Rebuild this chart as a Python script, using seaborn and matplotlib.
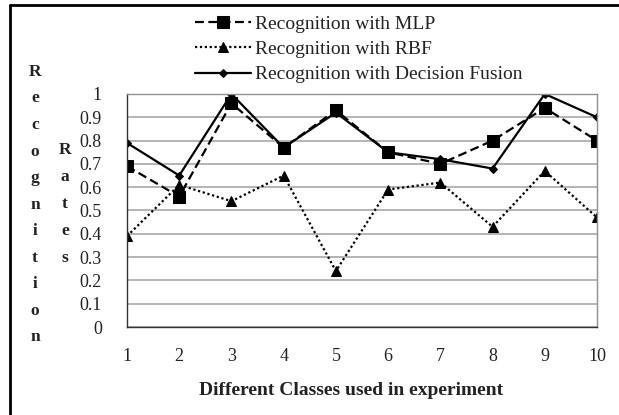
import matplotlib
matplotlib.use("Agg")
import matplotlib.pyplot as plt
import seaborn as sns
from matplotlib.lines import Line2D

classes = [1, 2, 3, 4, 5, 6, 7, 8, 9, 10]
mlp = [0.69, 0.56, 0.96, 0.77, 0.93, 0.75, 0.70, 0.80, 0.94, 0.80]
rbf = [0.39, 0.61, 0.54, 0.65, 0.24, 0.59, 0.62, 0.43, 0.67, 0.47]
fusion = [0.79, 0.65, 1.00, 0.77, 0.92, 0.75, 0.72, 0.68, 1.00, 0.90]
yticks = [0, 0.1, 0.2, 0.3, 0.4, 0.5, 0.6, 0.7, 0.8, 0.9, 1]
ytick_labels = ["0", "0.1", "0.2", "0.3", "0.4", "0.5", "0.6", "0.7", "0.8", "0.9", "1"]
names = ["Recognition with MLP", "Recognition with RBF", "Recognition with Decision Fusion"]

sns.set_theme(style="white")
plt.rcParams['font.family'] = ['Liberation Serif', 'DejaVu Serif']

W, H = 619, 415
fig = plt.figure(figsize=(W / 100, H / 100), dpi=100)
ax = fig.add_axes([127 / W, 1 - 327 / H, (597 - 127) / W, (327 - 94) / H])

sns.lineplot(x=classes, y=mlp, ax=ax, color="black", linestyle=(0, (4, 2)), lw=1.6,
             marker="s", markersize=8, markeredgecolor="black", label=names[0])
sns.lineplot(x=classes, y=rbf, ax=ax, color="black", linestyle=(0, (1, 1.2)), lw=1.6,
             marker="^", markersize=7, markeredgecolor="black", label=names[1])
sns.lineplot(x=classes, y=fusion, ax=ax, color="black", linestyle="-", lw=1.6,
             marker="D", markersize=4.5, markeredgecolor="black", label=names[2])

ax.set_xlim(1, 10)
ax.set_ylim(0, 1)
ax.set_xticks(classes)
ax.set_xticklabels([str(c) for c in classes])
ax.set_yticks(yticks)
ax.set_yticklabels(ytick_labels)
ax.yaxis.grid(True, color="#a8a8a8", lw=1.2)
ax.set_axisbelow(True)
for s in ["top", "right"]:
    ax.spines[s].set_color("#909090")
    ax.spines[s].set_linewidth(1)
for s in ["left", "bottom"]:
    ax.spines[s].set_color("#333333")
    ax.spines[s].set_linewidth(1)
ax.tick_params(axis="both", which="both", width=1, color="#333333",
               labelsize=13, labelcolor="#222222")
ax.tick_params(axis="x", direction="out", length=5, pad=10)
ax.tick_params(axis="y", direction="inout", length=8, pad=14)

ax.set_xlabel("Different Classes used in experiment", fontsize=14, fontweight="bold",
              color="#222222")
ax.xaxis.label.set_va("center")
ax.xaxis.set_label_coords((351 - 127) / 470, (327 - 390) / 233)
ax.set_ylabel("")

leg = ax.legend(loc="upper left", bbox_to_anchor=(195 / W, 1 - 15 / H),
                bbox_transform=fig.transFigure, frameon=False,
                fontsize=14, handlelength=2.9, handletextpad=0.2, labelspacing=0.4,
                borderpad=0, borderaxespad=0)
for t in leg.get_texts():
    t.set_color("#222222")

# stacked y-axis title letters
for i, ch in enumerate("Recognition"):
    fig.text(35 / W, 1 - (72 + i * 26.5) / H, ch, fontsize=12.5, fontweight="bold",
             ha="center", va="center", color="#222222")
for i, ch in enumerate("Rates"):
    fig.text(65 / W, 1 - (150 + i * 27) / H, ch, fontsize=12.5, fontweight="bold",
             ha="center", va="center", color="#222222")

# outer border (top and left)
fig.add_artist(Line2D([10 / W, 10 / W], [0, 1 - 5 / H], color="black", lw=2,
                      transform=fig.transFigure))
fig.add_artist(Line2D([10 / W, 1], [1 - 5 / H, 1 - 5 / H], color="black", lw=2,
                      transform=fig.transFigure))

fig.savefig("out.png", dpi=100)
